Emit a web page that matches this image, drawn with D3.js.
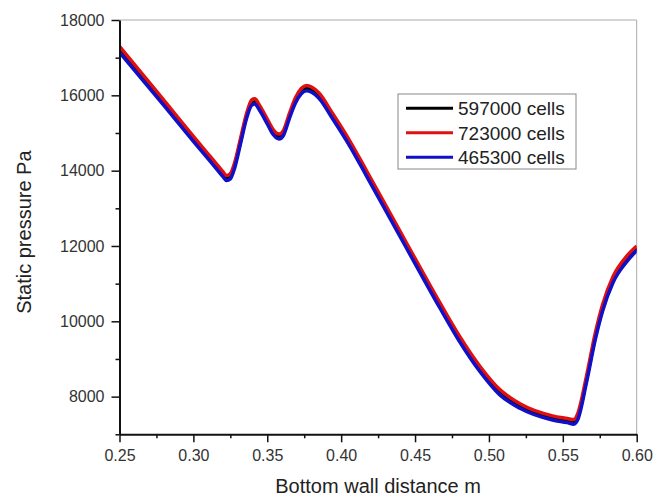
<!DOCTYPE html>
<html><head><meta charset="utf-8">
<script src="https://cdn.jsdelivr.net/npm/d3@7"></script>
<style>body{margin:0;background:#fff;} text{font-family:Arial,"Liberation Sans",sans-serif;}</style>
</head><body><svg id="c" width="668" height="498"></svg>
<script>
const xs = [0.25, 0.28, 0.30, 0.31, 0.316, 0.320, 0.3225, 0.325, 0.328, 0.332, 0.336, 0.3395, 0.3415, 0.345, 0.350, 0.354, 0.358, 0.361, 0.365, 0.369, 0.373, 0.3765, 0.380, 0.385, 0.394, 0.406, 0.417, 0.428, 0.440, 0.453, 0.467, 0.480, 0.494, 0.507, 0.521, 0.543, 0.553, 0.5575, 0.560, 0.566, 0.572, 0.577, 0.584, 0.593, 0.600];
const cells597000 = [17200, 15790, 14840, 14370, 14090, 13900, 13800, 13850, 14150, 14800, 15450, 15800, 15830, 15650, 15300, 15020, 14900, 15000, 15450, 15850, 16100, 16180, 16140, 15980, 15450, 14700, 13930, 13150, 12300, 11380, 10400, 9530, 8720, 8120, 7740, 7430, 7360, 7320, 7450, 8440, 9590, 10350, 11100, 11630, 11940];
const cells723000 = [17300, 15870, 14910, 14440, 14160, 13970, 13870, 13920, 14220, 14870, 15520, 15880, 15910, 15720, 15370, 15090, 14970, 15070, 15520, 15930, 16180, 16260, 16220, 16060, 15530, 14780, 14010, 13230, 12380, 11460, 10480, 9610, 8800, 8200, 7810, 7490, 7420, 7390, 7540, 8540, 9690, 10450, 11190, 11720, 12000];
const cells465300 = [17140, 15730, 14780, 14310, 14030, 13840, 13740, 13780, 14080, 14730, 15390, 15740, 15770, 15590, 15240, 14960, 14840, 14940, 15390, 15790, 16040, 16120, 16080, 15920, 15390, 14640, 13870, 13090, 12240, 11320, 10340, 9470, 8660, 8060, 7690, 7380, 7310, 7270, 7380, 8370, 9520, 10280, 11030, 11570, 11880];
const seriesNames = ["597000 cells", "723000 cells", "465300 cells"];
const seriesColors = ["#000000", "#e01010", "#1010c8"];
const xTicks = [0.25, 0.30, 0.35, 0.40, 0.45, 0.50, 0.55, 0.60];
const xMinor = [0.275, 0.325, 0.375, 0.425, 0.475, 0.525, 0.575];
const yTicks = [8000, 10000, 12000, 14000, 16000, 18000];
const yMinor = [7000, 9000, 11000, 13000, 15000, 17000];

const svg = d3.select("#c");
const L = 119.5, R = 636.7, T = 20, B = 434.3;
const x = d3.scaleLinear().domain([0.25, 0.60]).range([L, R]);
const y = d3.scaleLinear().domain([7000, 18000]).range([B, T]);

// frame top/right
svg.append("line").attr("x1", L).attr("x2", R).attr("y1", T).attr("y2", T).attr("stroke", "#aaa").attr("stroke-width", 1);
svg.append("line").attr("x1", R).attr("x2", R).attr("y1", T).attr("y2", B).attr("stroke", "#aaa").attr("stroke-width", 1);

svg.append("defs").append("clipPath").attr("id", "clip").append("rect")
  .attr("x", L).attr("y", T).attr("width", R - L).attr("height", B - T);

const data = [cells597000, cells723000, cells465300];
const line = d3.line().x((d, i) => x(xs[i])).y(d => y(d)).curve(d3.curveMonotoneX);
const g = svg.append("g").attr("clip-path", "url(#clip)");
data.forEach((s, k) => {
  g.append("path").attr("d", line(s)).attr("fill", "none")
    .attr("stroke", seriesColors[k]).attr("stroke-width", 3.5).attr("stroke-linejoin", "round");
});

// axes
const xAxis = svg.append("g").attr("transform", `translate(0,${B})`)
  .call(d3.axisBottom(x).tickValues(xTicks).tickSize(8).tickSizeOuter(0).tickFormat(d3.format(".2f")));
svg.append("g").attr("transform", `translate(0,${B})`)
  .call(d3.axisBottom(x).tickValues(xMinor).tickSize(4).tickSizeOuter(0).tickFormat(""))
  .call(g => g.select(".domain").remove());
const yAxis = svg.append("g").attr("transform", `translate(${L},0)`)
  .call(d3.axisLeft(y).tickValues(yTicks).tickSize(8).tickSizeOuter(0).tickFormat(d3.format("d")));
svg.append("g").attr("transform", `translate(${L},0)`)
  .call(d3.axisLeft(y).tickValues(yMinor).tickSize(4).tickSizeOuter(0).tickFormat(""))
  .call(g => g.select(".domain").remove());

svg.selectAll(".domain").attr("stroke", "#111").attr("stroke-width", 2);
svg.selectAll(".tick line").attr("stroke", "#111").attr("stroke-width", 1.5);
xAxis.selectAll("text").attr("font-size", 16).attr("fill", "#333").attr("y", 15).attr("font-family", "Arial, 'Liberation Sans', sans-serif");
yAxis.selectAll("text").attr("font-size", 16).attr("fill", "#333").attr("x", -15).attr("font-family", "Arial, 'Liberation Sans', sans-serif");

// titles
svg.append("text").attr("x", (L + R) / 2).attr("y", 493).attr("text-anchor", "middle")
  .attr("font-size", 20).attr("fill", "#222").text("Bottom wall distance m");
svg.append("text").attr("transform", `translate(31,${(T + B) / 2 + 5}) rotate(-90)`).attr("text-anchor", "middle")
  .attr("font-size", 20).attr("fill", "#222").text("Static pressure Pa");

// legend
const lg = svg.append("g");
lg.append("rect").attr("x", 398).attr("y", 94).attr("width", 178).attr("height", 75)
  .attr("fill", "#fff").attr("stroke", "#888").attr("stroke-width", 1);
seriesNames.forEach((n, k) => {
  const cy = 108.3 + k * 24.5;
  lg.append("line").attr("x1", 406).attr("x2", 453).attr("y1", cy).attr("y2", cy)
    .attr("stroke", seriesColors[k]).attr("stroke-width", 3);
  lg.append("text").attr("x", 458).attr("y", cy + 7).attr("font-size", 19).attr("fill", "#222").text(n);
});
</script></body></html>
